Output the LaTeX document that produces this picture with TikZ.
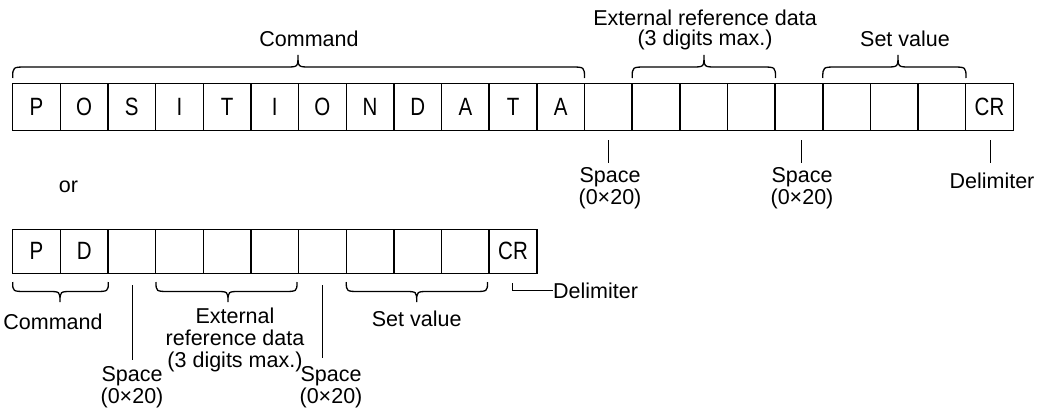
\documentclass[tikz,border=0pt]{standalone}
\usepackage{fontspec}
\setmainfont{Liberation Sans}
\newfontfamily\cellfont[FakeStretch=0.82]{Liberation Sans}
\newcommand{\mybrace}[6]{% xL, xR, xm, ytip, yflat, ypeak
  \draw[bracestyle] (#1,#4) .. controls (#1,#5) .. ({#1+14},#5)
    -- ({#3-12},#5) .. controls (#3,#5) .. (#3,#6)
    .. controls (#3,#5) .. ({#3+12},#5)
    -- ({#2-14},#5) .. controls (#2,#5) .. (#2,#4);}
\begin{document}
\begin{tikzpicture}[x=1pt,y=-1pt,
  cellbox/.style={draw, line width=1.5pt, minimum width=47.65pt, inner sep=0pt, outer sep=0pt,
    font=\cellfont\fontsize{25}{25}\selectfont},
  toprow/.style={cellbox, minimum height=47pt},
  botrow/.style={cellbox, minimum height=44pt},
  bracestyle/.style={line width=1.3pt},
  leader/.style={line width=1pt},
  lab/.style={inner sep=0pt, align=center, font=\fontsize{21.5}{20}\selectfont},
  lab22/.style={inner sep=0pt, align=center, font=\fontsize{21.5}{22}\selectfont}]
\useasboundingbox (0,0) rectangle (1044,415);
% top row
\foreach \i/\t in {0/P,1/O,2/S,3/I,4/T,5/I,6/O,7/N,8/D,9/A,10/T,11/A,12/{},13/{},14/{},15/{},16/{},17/{},18/{},19/{},20/CR}
  \node[toprow] (t\i) at ({12.7+(\i+0.5)*47.65},106.8) {\t};
% bottom row
\foreach \i/\t in {0/P,1/D,2/{},3/{},4/{},5/{},6/{},7/{},8/{},9/{},10/CR}
  \node[botrow] (b\i) at ({12.7+(\i+0.5)*47.65},251.3) {\t};
% top braces
\mybrace{12.7}{584.5}{298}{78}{67}{55}
\mybrace{632.2}{775.5}{704}{78}{67}{55}
\mybrace{822.8}{966}{898}{78}{67}{55}
\node[lab, anchor=base] (tcmd) at (309,46.7) {Command};
\node[lab, anchor=base] (text) at (705,45.5) {External reference data\\(3 digits max.)};
\node[lab, anchor=base] (tset) at (905,46) {Set value};
% top leaders
\node[lab, anchor=base] (tsp1) at (610,204) {Space\\(0×20)};
\node[lab, anchor=base] (tsp2) at (802,204) {Space\\(0×20)};
\node[lab, anchor=base] (tdel) at (992,188) {Delimiter};
\draw[leader] ([yshift=-9.7pt]t12.south) -- ([yshift=-32.7pt]t12.south);
\draw[leader] ([xshift=2.8pt,yshift=-9.7pt]t16.south) -- ([xshift=2.8pt,yshift=-32.7pt]t16.south);
\draw[leader] ([xshift=0.5pt,yshift=-9.7pt]t20.south) -- ([xshift=0.5pt,yshift=-32.7pt]t20.south);
\node[lab, anchor=base] (or) at (68.5,192) {or};
% bottom braces
\mybrace{12.7}{108.3}{60}{282}{291.5}{302}
\mybrace{156}{297}{228}{282}{291.5}{302}
\mybrace{346.3}{487.5}{416.7}{282}{291.5}{302}
\node[lab, anchor=base] (bcmd) at (53,329) {Command};
\node[lab22, anchor=base] (bext) at (235,367) {External\\reference data\\(3 digits max.)};
\node[lab, anchor=base] (bset) at (416.7,326) {Set value};
\node[lab, anchor=base] (bsp1) at (132,403) {Space\\(0×20)};
\node[lab, anchor=base] (bsp2) at (331,403) {Space\\(0×20)};
\draw[leader] ([xshift=0.9pt,yshift=-11.7pt]b2.south) -- ([xshift=0.9pt,yshift=-86.7pt]b2.south);
\draw[leader] ([yshift=-11.7pt]b6.south) -- ([yshift=-85pt]b6.south);
\node[lab, anchor=base west] (bdel) at (553,298) {Delimiter};
\draw[leader] ([xshift=-0.5pt,yshift=-10pt]b10.south) |- (bdel.west);
\end{tikzpicture}
\end{document}
